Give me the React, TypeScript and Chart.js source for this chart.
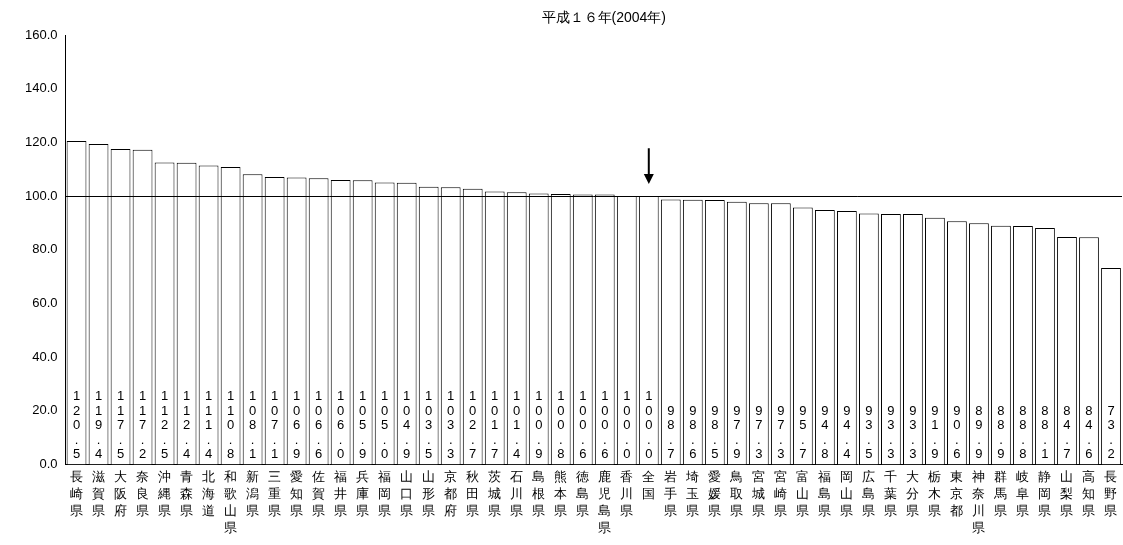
import React, { useEffect, useRef } from "react";
import { Chart, registerables } from "chart.js";
Chart.register(...registerables);

const categories = ["長崎県","滋賀県","大阪府","奈良県","沖縄県","青森県","北海道","和歌山県","新潟県","三重県","愛知県","佐賀県","福井県","兵庫県","福岡県","山口県","山形県","京都府","秋田県","茨城県","石川県","島根県","熊本県","徳島県","鹿児島県","香川県","全国","岩手県","埼玉県","愛媛県","鳥取県","宮城県","宮崎県","富山県","福島県","岡山県","広島県","千葉県","大分県","栃木県","東京都","神奈川県","群馬県","岐阜県","静岡県","山梨県","高知県","長野県"];
const values = [120.5,119.4,117.5,117.2,112.5,112.4,111.4,110.8,108.1,107.1,106.9,106.6,106.0,105.9,105.0,104.9,103.5,103.3,102.7,101.7,101.4,100.9,100.8,100.6,100.6,100.0,100.0,98.7,98.6,98.5,97.9,97.3,97.3,95.7,94.8,94.4,93.5,93.3,93.3,91.9,90.6,89.9,88.9,88.8,88.1,84.7,84.6,73.2];
const title = "平成１６年(2004年)";
const arrowCategory = "全国";
const referenceLine = 100;

export default function App() {
  const ref = useRef<HTMLCanvasElement>(null);
  useEffect(() => {
    const font = "'Liberation Sans', Arial, sans-serif";
    const plugin = {
      id: "extras",
      afterDatasetsDraw(chart: any) {
        const { ctx, chartArea, scales } = chart;
        const y = scales.y, x = scales.x;
        ctx.save();
        const yy = Math.round(y.getPixelForValue(referenceLine)) + 0.5;
        ctx.strokeStyle = "#000"; ctx.lineWidth = 1;
        ctx.beginPath(); ctx.moveTo(chartArea.left, yy); ctx.lineTo(chartArea.right, yy); ctx.stroke();
        ctx.fillStyle = "#000"; ctx.font = `13px ${font}`;
        ctx.textAlign = "center"; ctx.textBaseline = "alphabetic";
        const lh = 14.5;
        const base = y.getPixelForValue(0) - 6;
        values.forEach((v, i) => {
          const s = v.toFixed(1).split("");
          const px = x.getPixelForValue(i);
          s.forEach((c, k) => ctx.fillText(c, px, base - (s.length - 1 - k) * lh));
        });
        const ai = categories.indexOf(arrowCategory);
        const ax = x.getPixelForValue(ai);
        const top = y.getPixelForValue(117.8), bot = y.getPixelForValue(104.5);
        ctx.lineWidth = 2;
        ctx.beginPath(); ctx.moveTo(ax, top); ctx.lineTo(ax, bot - 8); ctx.stroke();
        ctx.beginPath(); ctx.moveTo(ax - 5, bot - 10); ctx.lineTo(ax + 5, bot - 10); ctx.lineTo(ax, bot); ctx.closePath(); ctx.fill();
        ctx.font = `14px ${font}`;
        ctx.textBaseline = "middle";
        ctx.fillText(title, (chartArea.left + chartArea.right) / 2 + 10, 18);
        ctx.restore();
      },
    };
    const chart = new Chart(ref.current!, {
      type: "bar",
      data: {
        labels: categories.map((c) => c.split("")),
        datasets: [{ data: values, backgroundColor: "#fff", borderColor: "#000", borderWidth: 1, barPercentage: 0.9, categoryPercentage: 1 }],
      },
      options: {
        animation: false, responsive: false,
        layout: { padding: { top: 35, right: 1, left: 22, bottom: 3 } },
        plugins: { legend: { display: false }, tooltip: { enabled: false } },
        scales: {
          x: {
            grid: { display: false, drawTicks: false },
            border: { display: true, color: "#000" },
            ticks: { color: "#000", font: { size: 13, family: font, lineHeight: 1.3 }, maxRotation: 0, autoSkip: false, padding: 5 },
          },
          y: {
            min: 0, max: 160,
            grid: { display: false, drawTicks: true, tickLength: 5, tickColor: "#000" } as any,
            border: { display: true, color: "#000" },
            ticks: { stepSize: 20, color: "#000", font: { size: 13, family: font }, callback: (v: any) => Number(v).toFixed(1), padding: 3 },
          },
        },
      },
      plugins: [plugin],
    });
    return () => chart.destroy();
  }, []);
  return (
    <div style={{ position: "fixed", left: 0, top: 0, width: 1123, height: 545, background: "#fff" }}>
      <canvas ref={ref} width={1123} height={545} style={{ width: 1123, height: 545 }} />
    </div>
  );
}
